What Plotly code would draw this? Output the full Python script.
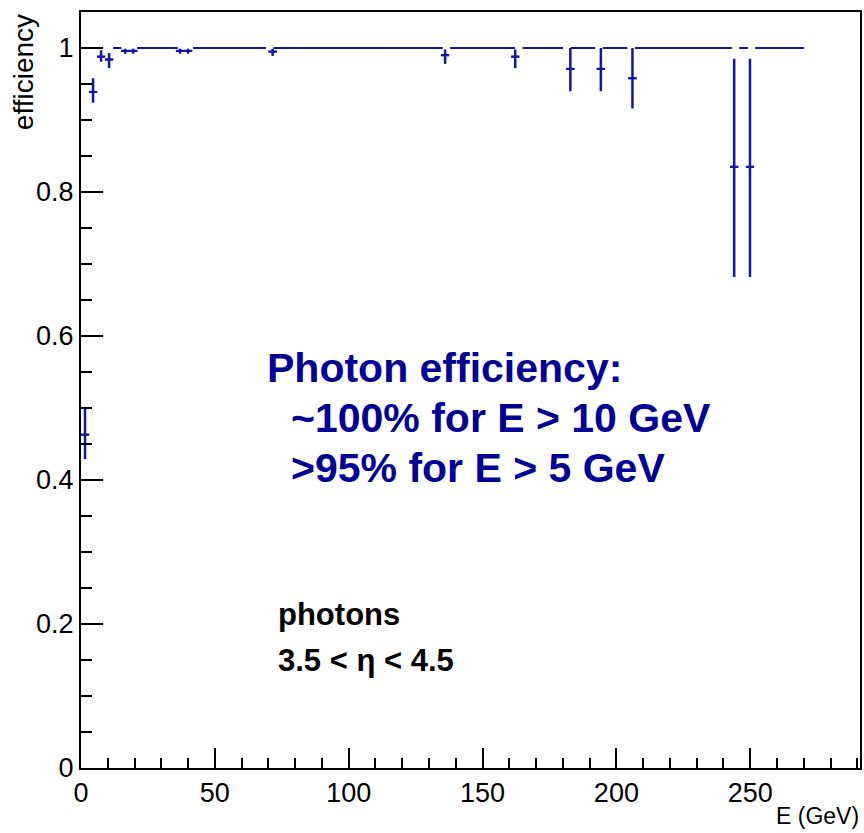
import plotly.graph_objects as go

# bin centres (GeV), 3 GeV bins from 0 to 270 (low-efficiency bins placed where read)
energy = [1.5, 4.5, 7.5, 10.5, 13.5, 16.5, 19.5, 22.5, 25.5, 28.5,
          31.5, 34.5, 37.0, 40.0, 43.5, 46.5, 49.5, 52.5, 55.5, 58.5,
          61.5, 64.5, 67.5, 71.6, 73.5, 76.5, 79.5, 82.5, 85.5, 88.5,
          91.5, 94.5, 97.5, 100.5, 103.5, 106.5, 109.5, 112.5, 115.5, 118.5,
          121.5, 124.5, 127.5, 130.5, 133.5, 136.0, 139.5, 142.5, 145.5, 148.5,
          151.5, 154.5, 157.5, 160.5, 162.2, 166.5, 169.5, 172.5, 175.5, 178.5,
          182.8, 184.5, 187.5, 190.5, 194.2, 196.5, 199.5, 202.5, 206.0, 208.5,
          211.5, 214.5, 217.5, 220.5, 223.5, 226.5, 229.5, 232.5, 235.5, 238.5,
          241.5, 244.0, 247.5, 249.9, 253.5, 256.5, 259.5, 262.5, 265.5, 268.5]

efficiency = [0.463, 0.939, 0.988, 0.984, 1.0, 0.996, 0.996, 1.0, 1.0, 1.0,
              1.0, 1.0, 0.996, 0.996, 1.0, 1.0, 1.0, 1.0, 1.0, 1.0,
              1.0, 1.0, 1.0, 0.995, 1.0, 1.0, 1.0, 1.0, 1.0, 1.0,
              1.0, 1.0, 1.0, 1.0, 1.0, 1.0, 1.0, 1.0, 1.0, 1.0,
              1.0, 1.0, 1.0, 1.0, 1.0, 0.990, 1.0, 1.0, 1.0, 1.0,
              1.0, 1.0, 1.0, 1.0, 0.988, 1.0, 1.0, 1.0, 1.0, 1.0,
              0.971, 1.0, 1.0, 1.0, 0.971, 1.0, 1.0, 1.0, 0.958, 1.0,
              1.0, 1.0, 1.0, 1.0, 1.0, 1.0, 1.0, 1.0, 1.0, 1.0,
              1.0, 0.835, 1.0, 0.835, 1.0, 1.0, 1.0, 1.0, 1.0, 1.0]

err_up = [0.036, 0.019, 0.009, 0.009, 0.0, 0.003, 0.003, 0.0, 0.0, 0.0,
          0.0, 0.0, 0.003, 0.003, 0.0, 0.0, 0.0, 0.0, 0.0, 0.0,
          0.0, 0.0, 0.0, 0.004, 0.0, 0.0, 0.0, 0.0, 0.0, 0.0,
          0.0, 0.0, 0.0, 0.0, 0.0, 0.0, 0.0, 0.0, 0.0, 0.0,
          0.0, 0.0, 0.0, 0.0, 0.0, 0.008, 0.0, 0.0, 0.0, 0.0,
          0.0, 0.0, 0.0, 0.0, 0.010, 0.0, 0.0, 0.0, 0.0, 0.0,
          0.029, 0.0, 0.0, 0.0, 0.029, 0.0, 0.0, 0.0, 0.042, 0.0,
          0.0, 0.0, 0.0, 0.0, 0.0, 0.0, 0.0, 0.0, 0.0, 0.0,
          0.0, 0.150, 0.0, 0.150, 0.0, 0.0, 0.0, 0.0, 0.0, 0.0]

err_down = [0.034, 0.015, 0.007, 0.012, 0.0, 0.004, 0.004, 0.0, 0.0, 0.0,
            0.0, 0.0, 0.004, 0.004, 0.0, 0.0, 0.0, 0.0, 0.0, 0.0,
            0.0, 0.0, 0.0, 0.006, 0.0, 0.0, 0.0, 0.0, 0.0, 0.0,
            0.0, 0.0, 0.0, 0.0, 0.0, 0.0, 0.0, 0.0, 0.0, 0.0,
            0.0, 0.0, 0.0, 0.0, 0.0, 0.012, 0.0, 0.0, 0.0, 0.0,
            0.0, 0.0, 0.0, 0.0, 0.016, 0.0, 0.0, 0.0, 0.0, 0.0,
            0.031, 0.0, 0.0, 0.0, 0.031, 0.0, 0.0, 0.0, 0.042, 0.0,
            0.0, 0.0, 0.0, 0.0, 0.0, 0.0, 0.0, 0.0, 0.0, 0.0,
            0.0, 0.153, 0.0, 0.153, 0.0, 0.0, 0.0, 0.0, 0.0, 0.0]

half_bin = [1.5] * len(energy)

x_tickvals = [0, 50, 100, 150, 200, 250]
x_ticktext = ["0", "50", "100", "150", "200", "250"]
y_tickvals = [0, 0.2, 0.4, 0.6, 0.8, 1.0]
y_ticktext = ["0", "0.2", "0.4", "0.6", "0.8", "1"]

note_lines = ["Photon efficiency:", "  ~100% for E > 10 GeV", "  >95% for E > 5 GeV"]
label_lines = ["photons", "3.5 < η < 4.5"]

W, H = 864, 833
ML, MR, MT, MB = 81, 2, 12, 65
PW, PH = W - ML - MR, H - MT - MB

def px_x(p):
    return (p - ML) / PW

def px_y(p):
    return (H - MB - p) / PH

FONT = "Liberation Sans, Arial, Helvetica, sans-serif"
BLUE = "rgb(20,20,165)"
NAVY = "rgb(0,0,150)"

fig = go.Figure()
fig.add_trace(go.Scatter(
    x=energy, y=efficiency, mode="markers",
    marker=dict(symbol="line-ew", size=6, color=BLUE, line=dict(width=2, color=BLUE)),
    error_x=dict(type="data", array=half_bin, symmetric=True, color=BLUE, thickness=2, width=0),
    error_y=dict(type="data", array=err_up, arrayminus=err_down, symmetric=False,
                 color=BLUE, thickness=2.5, width=0),
    showlegend=False, hoverinfo="x+y",
))

fig.update_layout(
    width=W, height=H,
    margin=dict(l=ML, r=MR, t=MT, b=MB, pad=0),
    paper_bgcolor="white", plot_bgcolor="white",
    font=dict(family=FONT, color="black"),
    xaxis=dict(range=[0, 291], showgrid=False, zeroline=False,
               showline=True, linecolor="black", linewidth=2, mirror=True,
               ticks="inside", ticklen=20, tickwidth=1.5, tickcolor="black",
               tickvals=x_tickvals, ticktext=x_ticktext,
               tickfont=dict(size=27, family=FONT),
               minor=dict(ticks="inside", ticklen=10, dtick=10, tick0=0,
                          tickwidth=1.5, tickcolor="black", showgrid=False)),
    yaxis=dict(range=[0, 1.05], showgrid=False, zeroline=False,
               showline=True, linecolor="black", linewidth=2, mirror=True,
               ticks="inside", ticklen=22, tickwidth=1.5, tickcolor="black",
               tickvals=y_tickvals, ticktext=y_ticktext,
               tickfont=dict(size=27, family=FONT),
               minor=dict(ticks="inside", ticklen=11, dtick=0.05, tick0=0,
                          tickwidth=1.5, tickcolor="black", showgrid=False)),
)

# axis titles (ROOT style: at the ends of the axes)
fig.add_annotation(text="efficiency", xref="paper", yref="paper",
                   x=px_x(23), y=px_y(12), xanchor="center", yanchor="top",
                   textangle=-90, showarrow=False,
                   font=dict(size=28, family=FONT, color="black"))
fig.add_annotation(text="E (GeV)", xref="paper", yref="paper",
                   x=px_x(863), y=px_y(816), xanchor="right", yanchor="middle",
                   showarrow=False, font=dict(size=23, family=FONT, color="black"))

# blue note
note_x = [265, 290, 290]
note_y = [368, 418, 468]
for txt, nx, ny in zip(note_lines, note_x, note_y):
    fig.add_annotation(text="<b>" + txt.strip() + "</b>", xref="paper", yref="paper",
                       x=px_x(nx), y=px_y(ny), xanchor="left", yanchor="middle",
                       showarrow=False, font=dict(size=41, family=FONT, color=NAVY))

# black labels
lab_y = [614, 660]
for txt, ly in zip(label_lines, lab_y):
    fig.add_annotation(text="<b>" + txt + "</b>", xref="paper", yref="paper",
                       x=px_x(277), y=px_y(ly), xanchor="left", yanchor="middle",
                       showarrow=False, font=dict(size=31, family=FONT, color="black"))

fig.write_html("out.html")
